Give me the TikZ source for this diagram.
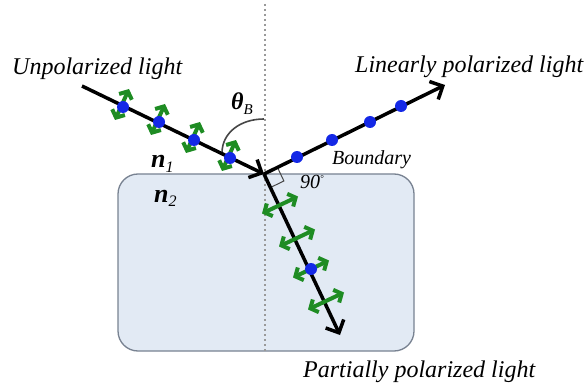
\documentclass[tikz,border=0pt]{standalone}
\usepackage{fontspec}
\setmainfont{Liberation Serif}
\usetikzlibrary{arrows.meta,calc}
\definecolor{boxfill}{RGB}{226,234,244}
\definecolor{boxline}{RGB}{120,130,145}
\definecolor{pgreen}{RGB}{30,140,35}
\definecolor{pblue}{RGB}{20,40,230}
\definecolor{arcgray}{RGB}{70,70,70}
\tikzset{
  ray/.style={draw=black, line width=3.5pt, -{Straight Barb[length=10pt,width=20pt,line width=3.5pt]}},
  gpol/.style={draw=pgreen, line width=4pt, {Straight Barb[length=6pt,width=14pt,line width=4pt]}-{Straight Barb[length=6pt,width=14pt,line width=4pt]}},
  bdot/.style={fill=pblue, draw=none},
  lab/.style={font=\fontsize{24}{26}\selectfont\itshape, inner sep=0pt},
  slab/.style={font=\fontsize{20}{22}\selectfont\itshape, inner sep=0pt},
}
\begin{document}
\begin{tikzpicture}[x=1pt,y=-1pt]
\useasboundingbox (0,0) rectangle (585,387);
% medium
\draw[fill=boxfill, draw=boxline, line width=1.3pt, rounded corners=20pt] (118,174) rectangle (414,351);
% normal
\draw[gray!80, line width=2pt, dash pattern=on 2pt off 3pt] (265,4) -- (265,351);
% points
\coordinate (O) at (264,174);
\coordinate (S) at (82,86);
\coordinate (R) at (445,85);
\coordinate (T) at (340,335);
% angle arc
\draw[arcgray, line width=1.6pt] (264,119) .. controls (240,119) and (222,133) .. (222,153);
% right angle mark
\draw[arcgray, line width=1pt] ($(O)!15pt!(R)$) -- ($(O)!15pt!(R)+(O)!15pt!(T)-(O)$) -- ($(O)!15pt!(T)$);
% rays
\draw[ray] (S) -- (O);
\draw[ray] (O) -- (R);
\draw[ray] (O) -- (T);
% incident polarization
\foreach \n/\x/\y in {d1/123/107, d2/159/122, d3/194/140, d4/230/158}{
  \coordinate (\n) at (\x,\y);
  \draw[gpol] ([shift={(-8,13)}]\n) -- ([shift={(6,-18)}]\n);
}
\foreach \n in {d1,d2,d3,d4}{ \fill[bdot] (\n) circle (6pt); }
% reflected dots
\foreach \n/\x/\y in {r1/297/157, r2/332/140, r3/370/122, r4/401/106}{
  \coordinate (\n) at (\x,\y);
  \fill[bdot] (\n) circle (6pt);
}
% refracted polarization
\foreach \n/\x/\y in {t1/280/205, t2/297/238, t3/311/269, t4/326/301}{
  \coordinate (\n) at (\x,\y);
  \draw[gpol] ([shift={(-18,8.5)}]\n) -- ([shift={(18,-8.5)}]\n);
}
\fill[bdot] (t3) circle (6pt);
% labels
\node[lab, anchor=base west] (ul) at (12,75) {Unpolarized light};
\node[lab, anchor=base west] (ll) at (355,73) {Linearly polarized light};
\node[lab, anchor=base west] (pl) at (303,377) {Partially polarized light};
\node[slab, anchor=base west] (bd) at (332,165) {Boundary};
\node[slab, anchor=base west] (nd) at (300,189) {90\raisebox{7pt}{\fontsize{9}{9}\selectfont\textdegree}};
\node[lab, anchor=base west, font=\fontsize{24}{26}\selectfont\itshape\bfseries] (th) at (231,110) {θ\raisebox{-5pt}{\fontsize{15}{15}\selectfont\mdseries B}};
\node[lab, anchor=base west, font=\fontsize{26}{28}\selectfont\itshape\bfseries] (n1) at (151,168) {n\raisebox{-5pt}{\fontsize{16}{16}\selectfont\mdseries 1}};
\node[lab, anchor=base west, font=\fontsize{26}{28}\selectfont\itshape\bfseries] (n2) at (154,202) {n\raisebox{-5pt}{\fontsize{16}{16}\selectfont\mdseries 2}};
\end{tikzpicture}
\end{document}
